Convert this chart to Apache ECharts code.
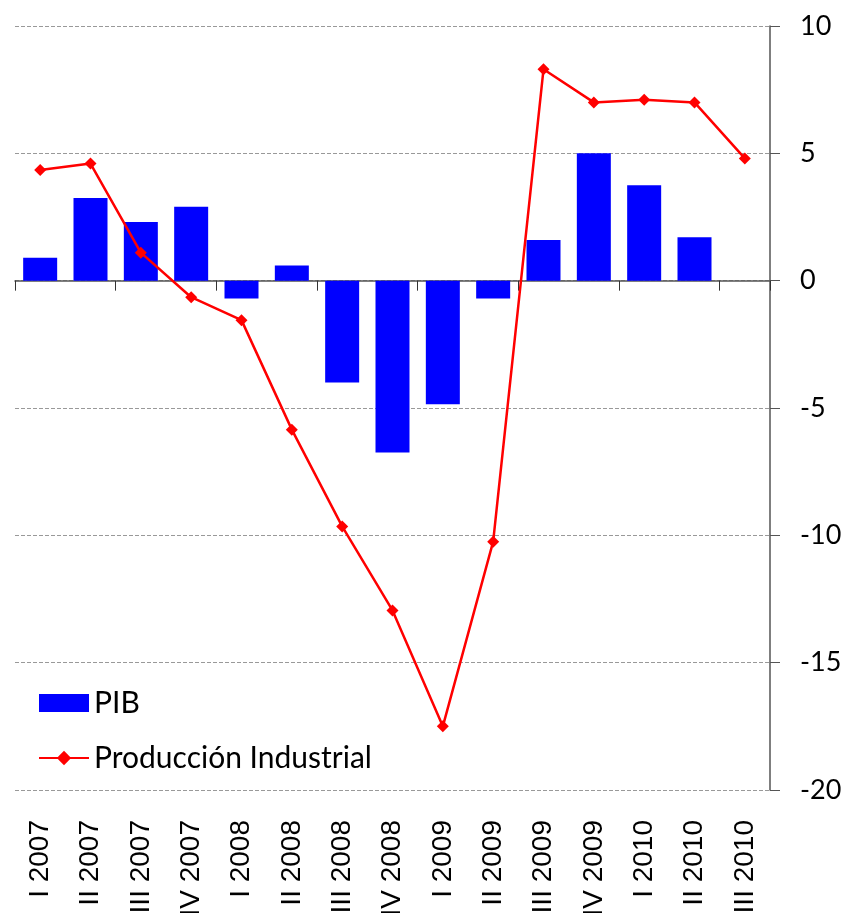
<!DOCTYPE html>
<html>
<head>
<meta charset="utf-8">
<script src="https://cdn.jsdelivr.net/npm/echarts@6/dist/echarts.min.js"></script>
<style>
  html, body { margin: 0; padding: 0; background: #fff; }
  #chart { width: 845px; height: 913px; }
</style>
</head>
<body>
<div id="chart"></div>
<script>
const quarters = ['I 2007', 'II 2007', 'III 2007', 'IV 2007', 'I 2008', 'II 2008', 'III 2008', 'IV 2008',
  'I 2009', 'II 2009', 'III 2009', 'IV 2009', 'I 2010', 'II 2010', 'III 2010']
const pib = [0.9, 3.25, 2.3, 2.9, -0.7, 0.6, -4.0, -6.75, -4.85, -0.7, 1.6, 5.0, 3.75, 1.7, null]
const produccion = [4.35, 4.6, 1.1, -0.65, -1.55, -5.85, -9.65, -12.95, -17.5, -10.25, 8.3, 7.0, 7.1, 7.0, 4.8]

const chart = echarts.init(document.getElementById('chart'))

const option = {
  backgroundColor: '#fff',
  animation: false,
  grid: { left: 15, right: 75, top: 26, bottom: 123, outerBoundsMode: 'none' },
  legend: {
    orient: 'vertical',
    left: 33,
    top: 683,
    itemWidth: 50,
    itemHeight: 18,
    itemGap: 25,
    textStyle: { fontFamily: 'Lato', fontSize: 30, lineHeight: 20, color: '#000' },
    data: [
      { name: 'PIB', icon: 'rect' },
      { name: 'Producción Industrial' }
    ]
  },
  xAxis: [
    {
      type: 'category',
      data: quarters,
      axisLine: { onZero: true, lineStyle: { color: '#555', width: 1.5 } },
      axisTick: { show: true, length: 10, lineStyle: { color: '#333' } },
      axisLabel: { show: false },
      splitLine: { show: false }
    },
    {
      type: 'category',
      data: quarters,
      position: 'bottom',
      axisLine: { show: false, onZero: false },
      axisTick: { show: false },
      axisLabel: {
        rotate: 90,
        margin: 30,
        interval: 0,
        fontFamily: 'Liberation Sans',
        fontSize: 28,
        color: '#000'
      }
    }
  ],
  yAxis: {
    type: 'value',
    position: 'right',
    min: -20,
    max: 10,
    interval: 5,
    axisLine: { show: true, lineStyle: { color: '#555', width: 1.5 } },
    axisTick: { show: true, length: 10, lineStyle: { color: '#555' } },
    axisLabel: { margin: 30, fontFamily: 'Lato', fontSize: 27, color: '#000' },
    splitLine: { show: true, lineStyle: { color: '#999', type: [4, 2], width: 1 } }
  },
  series: [
    {
      name: 'PIB',
      type: 'bar',
      xAxisIndex: 0,
      data: pib,
      barWidth: 34,
      itemStyle: { color: '#0000ff' }
    },
    {
      name: 'Producción Industrial',
      type: 'line',
      xAxisIndex: 0,
      data: produccion,
      symbol: 'diamond',
      symbolSize: 12,
      lineStyle: { color: '#ff0000', width: 2.5 },
      itemStyle: { color: '#ff0000' }
    }
  ]
}

chart.setOption(option)
window.addEventListener('resize', () => chart.resize())
</script>
</body>
</html>
